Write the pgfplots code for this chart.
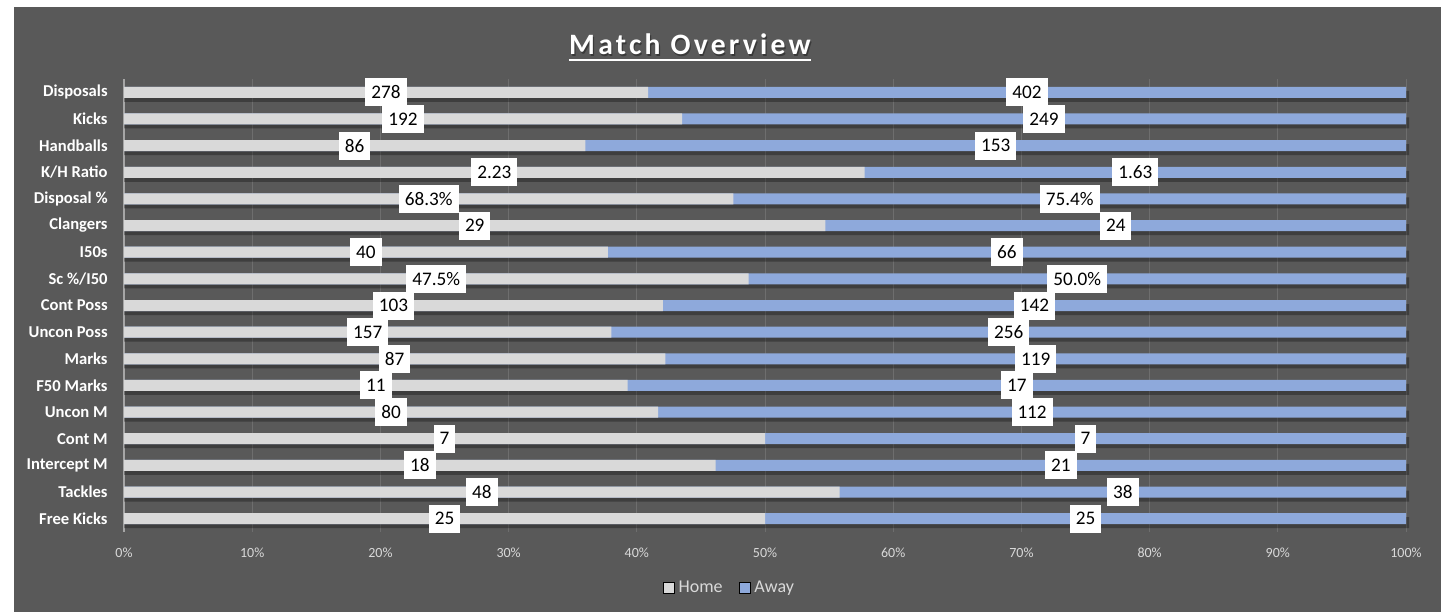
\documentclass[border=0pt]{standalone}
\usepackage{pgfplots}
\pgfplotsset{compat=1.18}
\usepackage{pgfplotstable}
\usepackage{fontspec}
\setmainfont{Carlito}
\newfontfamily\titlefont[LetterSpace=11]{Carlito}
\definecolor{bg}{HTML}{595959}
\definecolor{homec}{HTML}{D9D9D9}
\definecolor{awayc}{HTML}{8EA9DB}
\definecolor{gridc}{HTML}{6E6E6E}
\definecolor{tickc}{HTML}{D9D9D9}

\pgfplotstableread{
idx home away hl al
0 278 402 278 402
1 192 249 192 249
2 86 153 86 153
3 2.23 1.63 2.23 1.63
4 68.3 75.4 68.3\% 75.4\%
5 29 24 29 24
6 40 66 40 66
7 47.5 50.0 47.5\% 50.0\%
8 103 142 103 142
9 157 256 157 256
10 87 119 87 119
11 11 17 11 17
12 80 112 80 112
13 7 7 7 7
14 18 21 18 21
15 48 38 48 38
16 25 25 25 25
}\datatable

\begin{document}
\begin{tikzpicture}
\fill[white] (0,0) rectangle (721.5pt,306pt);
\fill[bg] (7pt,0) rectangle (720.5pt,302.5pt);
\node[anchor=base, inner sep=0pt, text=black, opacity=0.35, font=\titlefont\bfseries\fontsize{14.8}{16}\selectfont] at (345.6pt,277.9pt) {Match Overview};
\node[anchor=base, inner sep=0pt, text=white, font=\titlefont\bfseries\fontsize{14.8}{16}\selectfont] (t) at (345pt,278.5pt) {Match Overview};
\draw[white, line width=0.8pt] ([yshift=-2.6pt]t.base west) -- ([yshift=-2.6pt]t.base east);
\begin{axis}[
  at={(62pt,40pt)}, anchor=south west,
  scale only axis, width=641pt, height=226.5pt,
  xmin=0, xmax=100, ymin=-0.5, ymax=16.5, y dir=reverse,
  clip=false,
  axis lines*=left,
  x axis line style={draw=none},
  y axis line style={draw=gray!70, line width=0.6pt},
  major tick length=0pt,
  xmajorgrids, grid style={draw=gridc, line width=0.5pt},
  xtick={0,10,...,100},
  xticklabels={0\%,10\%,20\%,30\%,40\%,50\%,60\%,70\%,80\%,90\%,100\%},
  xticklabel style={anchor=center, yshift=-10.5pt, text=tickc, font=\fontsize{7}{8}\selectfont},
  ytick={0,...,16},
  yticklabels={Disposals,Kicks,Handballs,K/H Ratio,Disposal \%,Clangers,I50s,Sc \%/I50,Cont Poss,Uncon Poss,Marks,F50 Marks,Uncon M,Cont M,Intercept M,Tackles,Free Kicks},
  yticklabel style={anchor=east, inner sep=0pt, xshift=-8pt, text=white, font=\bfseries\fontsize{8.3}{9}\selectfont},
  legend style={at={(axis description cs:0.473,-0.1236)}, anchor=center, draw=none, fill=none,
    text=tickc, font=\fontsize{9}{10}\selectfont, legend columns=2,
    /tikz/every even column/.append style={column sep=6pt}},
  legend image code/.code={\fill[#1] (0pt,-2.75pt) rectangle (5.5pt,2.75pt);},
  nodes near coords style={fill=white, text=black, inner xsep=3pt, inner ysep=0pt,
    minimum height=14pt, anchor=center, font=\fontsize{9.6}{10}\selectfont},
]
\addlegendimage{fill=homec}
\addlegendentry{Home}
\addlegendimage{fill=awayc}
\addlegendentry{Away}
% shadow
\addplot[forget plot, xbar, bar width=5.5pt, bar shift=-2pt, draw=none, fill=black, fill opacity=0.3]
  table[x expr=100.25, y=idx] {\datatable};
% away (full)
\addplot[forget plot, xbar, bar width=5.5pt, draw=none, fill=awayc]
  table[x expr=100, y=idx] {\datatable};
% home
\addplot[forget plot, xbar, bar width=5.5pt, draw=none, fill=homec]
  table[x expr=\thisrow{home}/(\thisrow{home}+\thisrow{away})*100, y=idx] {\datatable};
% labels
\addplot[forget plot, only marks, mark=none, nodes near coords, point meta=explicit symbolic]
  table[x expr=\thisrow{home}/(\thisrow{home}+\thisrow{away})*50, y=idx, meta=hl] {\datatable};
\addplot[forget plot, only marks, mark=none, nodes near coords, point meta=explicit symbolic]
  table[x expr=50+\thisrow{home}/(\thisrow{home}+\thisrow{away})*50, y=idx, meta=al] {\datatable};
\end{axis}
\pgfresetboundingbox
\useasboundingbox (0,0) rectangle (721.5pt,306pt);
\end{tikzpicture}
\end{document}
